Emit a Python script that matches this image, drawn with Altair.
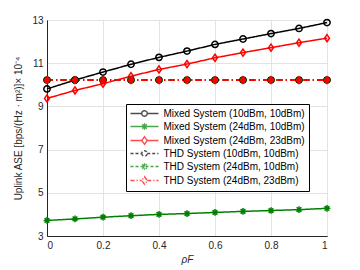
import altair as alt
import pandas as pd

rho = [0.0, 0.1, 0.2, 0.3, 0.4, 0.5, 0.6, 0.7, 0.8, 0.9, 1.0]
series = [
    "Mixed System (10dBm, 10dBm)",
    "Mixed System (24dBm, 10dBm)",
    "Mixed System (24dBm, 23dBm)",
    "THD System (10dBm, 10dBm)",
    "THD System (24dBm, 10dBm)",
    "THD System (24dBm, 23dBm)",
]
mixed_10_10 = [9.81, 10.22, 10.59, 10.95, 11.27, 11.56, 11.87, 12.12, 12.37, 12.61, 12.88]
mixed_24_10 = [3.72, 3.79, 3.87, 3.94, 4.00, 4.04, 4.09, 4.14, 4.18, 4.22, 4.28]
mixed_24_23 = [9.37, 9.74, 10.05, 10.40, 10.71, 10.96, 11.25, 11.49, 11.72, 11.95, 12.16]
thd_10_10 = [10.22, 10.22, 10.22, 10.22, 10.22, 10.22, 10.22, 10.22, 10.22, 10.22, 10.22]
thd_24_10 = [10.22, 10.22, 10.22, 10.22, 10.22, 10.22, 10.22, 10.22, 10.22, 10.22, 10.22]
thd_24_23 = [10.22, 10.22, 10.22, 10.22, 10.22, 10.22, 10.22, 10.22, 10.22, 10.22, 10.22]

colors = ["#000000", "#008000", "#ff0000", "#000000", "#008000", "#ff0000"]
plot_dashes = [[1, 0], [1, 0], [1, 0], [6, 7.5], [6, 7.5], [6, 3, 1.5, 3]]
plot_widths = [1.5, 1.5, 1.5, 1.5, 1.5, 2]
legend_dashes = [[1, 0], [1, 0], [1, 0], [3, 2], [3, 2], [4, 2, 1.2, 2]]

ASTERISK = "M0,-1L0,1M-1,0L1,0M-0.7,-0.7L0.7,0.7M-0.7,0.7L0.7,-0.7"
DIAMOND = "M0,-1L0.7,0L0,1L-0.7,0Z"

LEG_CIRCLE = "M-1,0L1.25,0M2.35,0L4.6,0M1.25,0A0.55,0.55,0,1,0,2.35,0A0.55,0.55,0,1,0,1.25,0"
LEG_AST = "M-1,0L4.6,0M1.8,-0.65L1.8,0.65M1.35,-0.45L2.25,0.45M1.35,0.45L2.25,-0.45"
LEG_DIA = "M-1,0L1.25,0M2.35,0L4.6,0M1.8,-0.75L2.35,0L1.8,0.75L1.25,0Z"
leg_shapes = [LEG_CIRCLE, LEG_AST, LEG_DIA, LEG_CIRCLE, LEG_AST, LEG_DIA]

vals = [mixed_10_10, mixed_24_10, mixed_24_23, thd_10_10, thd_24_10, thd_24_23]
rows = []
for i, (s, v) in enumerate(zip(series, vals)):
    for x, y in zip(rho, v):
        rows.append({"rho": x, "ase": y, "series": s})
df = pd.DataFrame(rows)

xenc = alt.X("rho:Q", scale=alt.Scale(domain=[0, 1], nice=False),
             axis=alt.Axis(values=[0, 0.2, 0.4, 0.6, 0.8, 1], format="~g", title="ρF",
                           titleFontStyle="italic"))
yenc = alt.Y("ase:Q", scale=alt.Scale(domain=[3, 13], nice=False, zero=False),
             axis=alt.Axis(values=list(range(3, 14)),
                           title="Uplink ASE [bps/(Hz · m²)]× 10⁻⁴"))

cscale = alt.Scale(domain=series, range=colors)
dscale = alt.Scale(domain=series, range=legend_dashes)
sscale = alt.Scale(domain=series, range=leg_shapes)

base = alt.Chart(df)

legend = alt.Legend(title=None, orient="none", legendX=79, legendY=84,
                    symbolSize=100, symbolStrokeWidth=1.4, labelFontSize=10,
                    labelColor="#000000", strokeColor="#000000", fillColor="#ffffff",
                    symbolFillColor="#ffffff",
                    padding=3.5, rowPadding=0, labelOffset=22, labelLimit=300,
                    labelFont="Liberation Sans")

leg_layer = base.transform_filter("false").mark_point(
    filled=False, fill="#ffffff", strokeWidth=1.4
).encode(
    x=xenc, y=yenc,
    color=alt.Color("series:N", scale=cscale, legend=legend),
    shape=alt.Shape("series:N", scale=sscale, legend=legend),
    strokeDash=alt.StrokeDash("series:N", scale=dscale, legend=legend),
)

line_layers = []
for i, s in enumerate(series):
    line_layers.append(
        base.transform_filter(alt.datum.series == s).mark_line(
            strokeWidth=plot_widths[i], strokeDash=plot_dashes[i]
        ).encode(
            x="rho:Q", y="ase:Q",
            color=alt.Color("series:N", scale=cscale, legend=None),
            order="rho:Q",
        )
    )


def pts(names, shape, size, fill=None, sw=1.5):
    kw = {"fill": fill} if fill else {}
    return base.transform_filter(
        alt.FieldOneOfPredicate(field="series", oneOf=names)
    ).mark_point(shape=shape, size=size, filled=False, strokeWidth=sw, opacity=1, **kw).encode(
        x="rho:Q", y="ase:Q",
        color=alt.Color("series:N", scale=cscale, legend=None),
    )


p_circ = pts([series[0], series[3]], "circle", 40)
p_ast = pts([series[1], series[4]], ASTERISK, 45)
p_dia = pts([series[2]], DIAMOND, 50)
p_dia_thd = pts([series[5]], DIAMOND, 45, fill="#ff0000")

chart = alt.layer(leg_layer, *line_layers, p_circ, p_ast, p_dia, p_dia_thd).properties(
    width=280, height=216,
    autosize=alt.AutoSizeParams(type="none"),
    padding={"left": 39, "top": 12, "right": 20, "bottom": 30},
).configure_view(stroke="#262626", strokeWidth=1).configure_axis(
    labelFont="Liberation Sans", titleFont="Liberation Sans",
    labelFontSize=10, titleFontSize=10, labelColor="#262626", titleColor="#262626",
    titleFontWeight="normal", gridColor="#e3e3e3", domainColor="#262626",
    ticks=False, labelPadding=4,
).configure_axisY(titlePadding=8).configure_axisX(titlePadding=4)

chart.save("out.html", embed_options={"renderer": "svg", "actions": False})
